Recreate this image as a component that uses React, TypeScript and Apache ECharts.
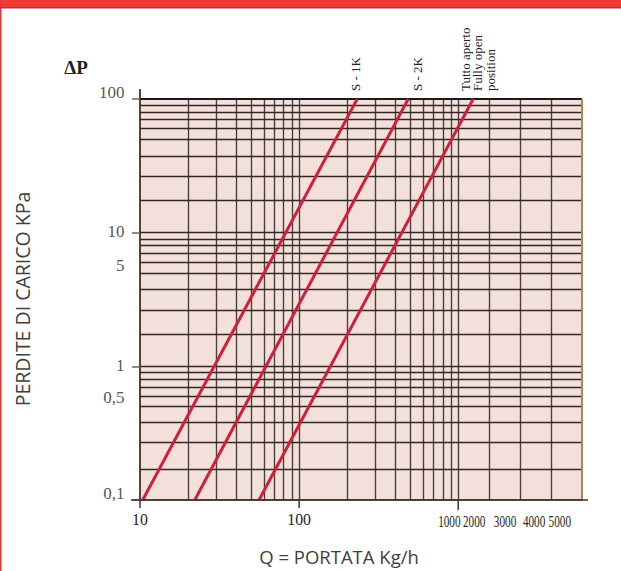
import React, { useEffect, useRef } from "react";
import * as echarts from "echarts";

// ---- data ----
const seriesNames = ["S - 1K", "S - 2K", "Tutto aperto"];
const s1kFlow = [10.4, 232];
const s1kDrop = [0.1, 100];
const s2kFlow = [22.1, 485];
const s2kDrop = [0.1, 100];
const openFlow = [56, 1242];
const openDrop = [0.1, 100];

const flowMin = 10;
const flowMax = 6000;
const dropMin = 0.1;
const dropMax = 100;

// vertical grid lines (flow, Kg/h) as drawn in the reference
const flowGridLines = [
  20, 30, 40, 50, 60, 70, 80, 90, 100,
  200, 300, 400, 500, 600, 700, 800, 900, 1000,
  1560, 2450, 3830,
];
// horizontal grid lines (pressure drop, kPa) as drawn in the reference
const dropGridLines = [
  0.175, 0.265, 0.375, 0.5, 0.6, 0.7, 0.8, 0.9, 1,
  1.75, 2.65, 3.75, 5, 6, 7, 8, 9, 10,
  17.5, 26.5, 37.5, 50, 60, 70, 80, 90,
];

const flowTickValues = [10, 100, 1000];
const flowLabelTexts = ["10", "100", "1000", "2000", "3000", "4000", "5000"];
const flowLabelAt = [10, 100, 880, 1260, 1970, 3000, 4350];
const dropLabelTexts = ["100", "10", "5", "1", "0,5", "0,1"];
const dropLabelAt = [111, 10.2, 5.64, 1.01, 0.582, 0.111];

const curveLabels = ["S - 1K", "S - 2K", "Tutto aperto\nFully open\nposition"];
const yTitle = "PERDITE DI CARICO KPa";
const xTitle = "Q = PORTATA Kg/h";
const deltaTitle = "ΔP";

export default function App() {
  const ref = useRef<HTMLDivElement>(null);

  useEffect(() => {
    if (!ref.current) return;
    const chart = echarts.init(ref.current, null, { renderer: "svg" });
    const serif = '"Liberation Serif", "Times New Roman", serif';
    const sans = '"Open Sans", "Noto Sans", sans-serif';
    const flows = [s1kFlow, s2kFlow, openFlow];
    const drops = [s1kDrop, s2kDrop, openDrop];

    const hLineColor = "#2f2725";
    const vLineColor = "#4a403d";

    const markData: any[] = [
      ...flowGridLines.map((v) => ({
        xAxis: v,
        lineStyle: { color: vLineColor, width: 1.4, type: "solid" },
      })),
      ...dropGridLines.map((v) => ({
        yAxis: v,
        lineStyle: { color: hLineColor, width: 1.3, type: "solid" },
      })),
      { yAxis: dropMax, lineStyle: { color: "#1e1816", width: 2.2, type: "solid" } },
      { xAxis: flowMax, lineStyle: { color: "#a88a4e", width: 2, type: "solid" } },
    ];

    const option: any = {
      animation: false,
      backgroundColor: "#ffffff",
      grid: {
        left: 140,
        right: 39,
        top: 99,
        bottom: 71,
        show: true,
        backgroundColor: "#f4e0da",
        borderWidth: 0,
        containLabel: false,
        outerBoundsMode: "none",
      },
      xAxis: {
        type: "log",
        logBase: 10,
        min: flowMin,
        max: flowMax,
        axisLine: { show: true, onZero: false, lineStyle: { color: "#3a3432", width: 1.5 } },
        axisTick: { show: false },
        axisLabel: { show: false },
        splitLine: { show: false },
      },
      yAxis: {
        type: "log",
        logBase: 10,
        min: dropMin,
        max: dropMax,
        axisLine: { show: true, onZero: false, lineStyle: { color: "#55462f", width: 2 } },
        axisTick: { show: true, length: 8, lineStyle: { color: "#6a6462", width: 1.5 } },
        axisLabel: { show: false },
        splitLine: { show: false },
      },
      series: [
        {
          type: "line",
          name: "grid",
          data: [],
          silent: true,
          markLine: {
            silent: true,
            z: 1,
            symbol: ["none", "none"],
            label: { show: false },
            lineStyle: { type: "solid" },
            emphasis: { disabled: true },
            data: markData,
          },
        },
        ...seriesNames.map((name, i) => ({
          type: "line",
          name,
          z: 3,
          symbol: "none",
          silent: true,
          lineStyle: { color: "#cf1f3b", width: 3 },
          data: flows[i].map((f, k) => [f, drops[i][k]]),
        })),
        {
          type: "scatter",
          name: "yLabels",
          silent: true,
          clip: false,
          z: 4,
          symbol: "circle",
          symbolSize: 1,
          itemStyle: { color: "rgba(0,0,0,0)" },
          label: {
            show: true,
            position: "left",
            distance: 15,
            color: "#262626",
            fontFamily: serif,
            fontSize: 17,
          },
          data: dropLabelAt.map((v, i) => ({
            value: [flowMin, v],
            label: { formatter: dropLabelTexts[i] },
          })),
        },
      ],
    };

    chart.setOption(option);

    const xPx = (v: number) => chart.convertToPixel({ xAxisIndex: 0 }, v) as number;
    const yPx = (v: number) => chart.convertToPixel({ yAxisIndex: 0 }, v) as number;
    const yBottom = yPx(dropMin);
    const yTop = yPx(dropMax);
    const xLeft = xPx(flowMin);
    const xRight = xPx(flowMax);

    const graphics: any[] = [
      // frame
      { type: "rect", z: 20, shape: { x: 0, y: 0, width: 621, height: 8 }, style: { fill: "#ef3b33" } },
      { type: "rect", z: 21, shape: { x: 0, y: 7, width: 621, height: 1.5 }, style: { fill: "#d02a2b" } },
      { type: "rect", z: 20, shape: { x: 0, y: 0, width: 1.5, height: 571 }, style: { fill: "#e2373a" } },
      // axis extensions
      {
        type: "line", z: 10,
        shape: { x1: xLeft, y1: yTop - 10, x2: xLeft, y2: yTop },
        style: { stroke: "#55462f", lineWidth: 2 },
      },
      {
        type: "line", z: 10,
        shape: { x1: xLeft - 9, y1: yBottom, x2: xRight + 6, y2: yBottom },
        style: { stroke: "#3a3432", lineWidth: 1.5 },
      },
      // x ticks
      ...flowTickValues.map((v, i) => ({
        type: "line", z: 10,
        shape: { x1: xPx(v), y1: yBottom, x2: xPx(v), y2: yBottom + (i === 2 ? 10 : 8) },
        style: { stroke: "#3a3432", lineWidth: 1.5 },
      })),
      // x tick labels
      ...flowLabelAt.map((v, i) => ({
        type: "text", z: 10,
        x: xPx(v),
        y: yBottom + (i >= 2 ? 21 : 19),
        scaleX: i >= 2 ? 0.66 : 0.93,
        style: {
          text: flowLabelTexts[i], fontFamily: serif, fontSize: 17,
          fill: "#262626", align: "center", verticalAlign: "middle",
        },
      })),
      // titles
      {
        type: "text", z: 10, x: 76, y: 67,
        style: {
          text: deltaTitle, fontFamily: serif, fontWeight: "bold", fontSize: 19,
          fill: "#1f1f1f", align: "center", verticalAlign: "middle",
        },
      },
      {
        type: "text", z: 10, x: 22.5, y: 299, rotation: Math.PI / 2,
        style: {
          text: yTitle, fontFamily: sans, fontSize: 19.5,
          fill: "#404040", align: "center", verticalAlign: "middle",
        },
      },
      {
        type: "text", z: 10, x: 339, y: 556,
        style: {
          text: xTitle, fontFamily: sans, fontSize: 18.5,
          fill: "#404040", align: "center", verticalAlign: "middle",
        },
      },
      // curve labels
      {
        type: "text", z: 10, x: 355, y: 91, rotation: Math.PI / 2,
        style: { text: curveLabels[0], fontFamily: serif, fontSize: 13, fill: "#222", align: "left", verticalAlign: "middle" },
      },
      {
        type: "text", z: 10, x: 417, y: 91, rotation: Math.PI / 2,
        style: { text: curveLabels[1], fontFamily: serif, fontSize: 13, fill: "#222", align: "left", verticalAlign: "middle" },
      },
      {
        type: "text", z: 10, x: 459, y: 91, rotation: Math.PI / 2,
        style: {
          text: curveLabels[2], fontFamily: serif, fontSize: 13, lineHeight: 12.5,
          fill: "#222", align: "left", verticalAlign: "top",
        },
      },
    ];

    chart.setOption({ graphic: graphics });

    return () => {
      chart.dispose();
    };
  }, []);

  return (
    <div
      ref={ref}
      style={{ position: "absolute", left: 0, top: 0, width: 621, height: 571 }}
    />
  );
}
